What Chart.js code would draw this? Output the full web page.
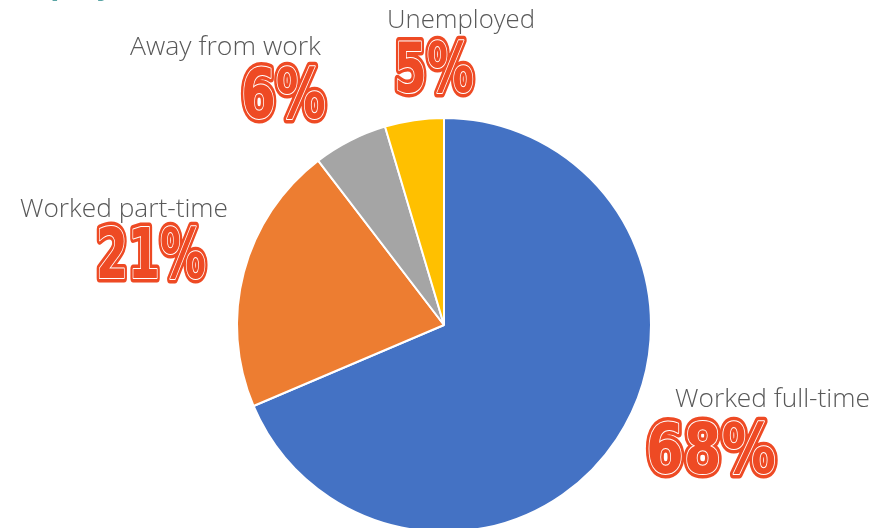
<!DOCTYPE html>
<html>
<head>
<meta charset="utf-8">
<script src="https://cdn.jsdelivr.net/npm/chart.js@4"></script>
<style>
  html, body { margin: 0; padding: 0; background: #fff; overflow: hidden; }
  #wrap { width: 890px; height: 528px; overflow: hidden; position: relative; }
</style>
</head>
<body>
<div id="wrap"><canvas id="pie" width="890" height="560"></canvas></div>
<script>
// Chart data
const categories = ['Worked full-time', 'Worked part-time', 'Away from work', 'Unemployed'];
const shares = [68.6, 21.0, 5.8, 4.6];
const percentLabels = ['68%', '21%', '6%', '5%'];
const sliceColors = ['#4472C4', '#ED7D31', '#A5A5A5', '#FFC000'];

// where each label block sits (name baseline, percent baseline, left edge, widths)
const labelLayout = [
    { x: 675, nameY: 407, nameW: 195, pctX: 642, pctY: 477, pctW: 138 },
    { x: 20,  nameY: 217, nameW: 208, pctX: 92,  pctY: 282, pctW: 118 },
    { x: 130, nameY: 55,  nameW: 191, pctX: 237, pctY: 122, pctW: 93 },
    { x: 387, nameY: 28,  nameW: 148, pctX: 390, pctY: 96,  pctW: 88 }
];

// draws the category names and the big outlined percentages
const labelPlugin = {
    id: 'bigLabels',
    afterDraw(chart) {
        const ctx = chart.ctx;
        ctx.save();

        // cut-off title at the very top (only descenders show)
        ctx.fillStyle = '#5BA5A5';
        ctx.font = 'bold 30px "Open Sans"';
        ctx.textBaseline = 'alphabetic';
        ctx.fillText('Employ', 4, -6);

        categories.forEach((name, i) => {
            const pos = labelLayout[i];
            ctx.font = '300 25px "Open Sans"';
            ctx.fillStyle = '#595959';
            ctx.textBaseline = 'alphabetic';
            const nw = ctx.measureText(name).width;
            ctx.save();
            ctx.translate(pos.x, pos.nameY);
            ctx.scale(pos.nameW / nw, 1);
            ctx.fillText(name, 0, 0);
            ctx.restore();

            // percent: thick red outline, white inline, red fill
            const txt = percentLabels[i];
            ctx.font = 'bold 70px "DejaVu Sans"';
            const w = ctx.measureText(txt).width;
            const sx = (pos.pctW - 8) / w;
            ctx.save();
            ctx.translate(pos.pctX + 4, pos.pctY - 4);
            ctx.scale(sx, 1);
            ctx.lineJoin = 'round';
            ctx.strokeStyle = '#EE4A24';
            ctx.lineWidth = 9;
            ctx.strokeText(txt, 0, 0);
            ctx.strokeStyle = '#FFFFFF';
            ctx.lineWidth = 2;
            ctx.strokeText(txt, 0, 0);
            ctx.fillStyle = '#EE4A24';
            ctx.fillText(txt, 0, 0);
            ctx.restore();
        });
        ctx.restore();
    }
};

new Chart(document.getElementById('pie'), {
    type: 'pie',
    data: {
        labels: categories,
        datasets: [{
            data: shares,
            backgroundColor: sliceColors,
            borderColor: '#FFFFFF',
            borderWidth: 2
        }]
    },
    options: {
        responsive: false,
        animation: false,
        layout: { padding: { left: 236, right: 238, top: 117, bottom: 27 } },
        plugins: {
            legend: { display: false },
            tooltip: { enabled: false }
        }
    },
    plugins: [labelPlugin]
});
</script>
</body>
</html>
